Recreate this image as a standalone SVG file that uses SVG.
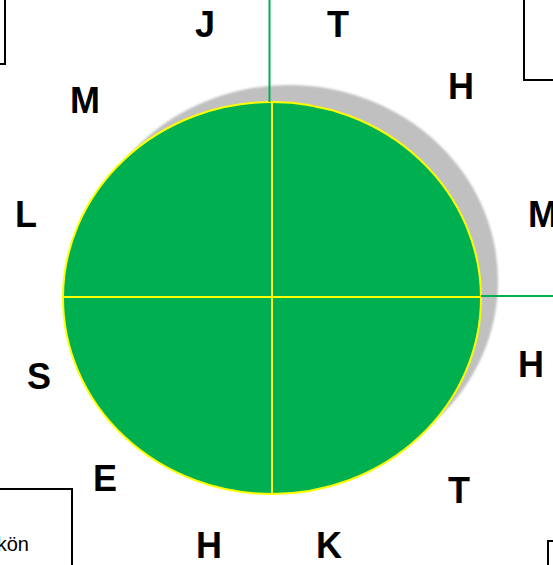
<svg xmlns="http://www.w3.org/2000/svg" width="553" height="565" viewBox="0 0 553 565">
<defs>
<style>
.lbl{font-family:"Liberation Sans",Arial,sans-serif;font-weight:bold;font-size:36px;fill:#000;text-anchor:middle}
.box{fill:#fff;stroke:#000;stroke-width:2}
.yl{stroke:#FFFF00;stroke-width:2;fill:none}
.gl{stroke:#00B050;stroke-width:2;fill:none}
</style>
<filter id="blur" x="-5%" y="-5%" width="110%" height="110%"><feGaussianBlur stdDeviation="1"/></filter>
</defs>
<rect width="553" height="565" fill="#fff"/>
<g id="box-tl"><rect class="box" x="-20" y="-20" width="25" height="84"/></g>
<g id="box-tr"><rect class="box" x="524" y="-20" width="50" height="100"/></g>
<g id="box-bl"><rect class="box" x="-20" y="489" width="92" height="100"/><text x="29" y="551" font-family="Liberation Sans,Arial,sans-serif" font-size="20" text-anchor="end">kön</text></g>
<g id="box-br"><rect class="box" x="548" y="541" width="30" height="40"/></g>
<g id="circle">
<ellipse cx="289" cy="281" rx="209" ry="196" fill="#C0C0C0" filter="url(#blur)"/>
<ellipse cx="272" cy="298" rx="209" ry="196" fill="#00B050" stroke="#FFFF00" stroke-width="2"/>
<line class="yl" x1="272" y1="102" x2="272" y2="494"/>
<line class="yl" x1="63" y1="297" x2="481" y2="297"/>
</g>
<g id="connectors">
<line class="gl" x1="269.5" y1="0" x2="269.5" y2="102"/>
<line class="gl" x1="481" y1="296" x2="553" y2="296"/>
</g>
<g id="labels">
<text class="lbl" x="205" y="37">J</text>
<text class="lbl" x="338" y="37">T</text>
<text class="lbl" x="461" y="99">H</text>
<text class="lbl" x="85" y="113">M</text>
<text class="lbl" x="26" y="227">L</text>
<text class="lbl" x="528" y="227" style="text-anchor:start">M</text>
<text class="lbl" x="39" y="389">S</text>
<text class="lbl" x="531" y="377">H</text>
<text class="lbl" x="105" y="491">E</text>
<text class="lbl" x="459" y="503">T</text>
<text class="lbl" x="209" y="558">H</text>
<text class="lbl" x="329" y="558">K</text>
</g>
</svg>
